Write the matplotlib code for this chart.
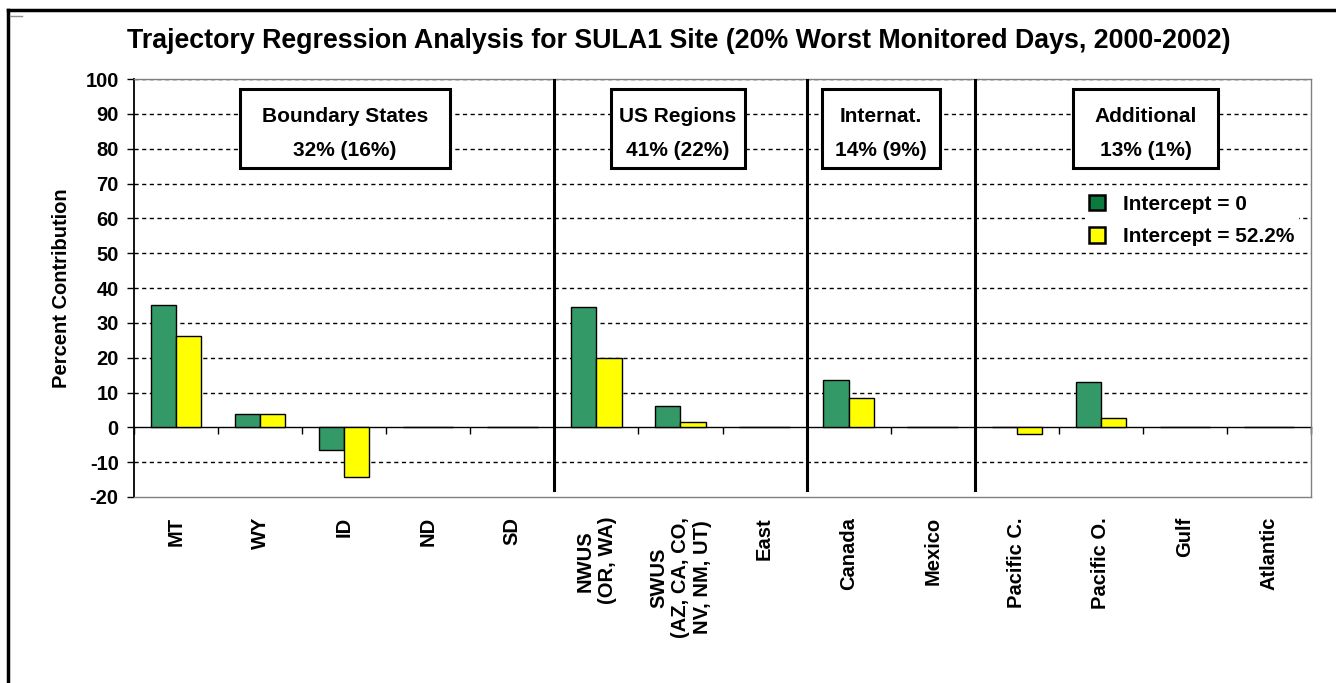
import numpy as np
import matplotlib.pyplot as plt
import matplotlib.transforms as mtransforms
from matplotlib.lines import Line2D
from matplotlib.patches import Patch, Rectangle

plt.rcParams['font.family'] = ['Liberation Sans', 'DejaVu Sans']
plt.rcParams['font.weight'] = 'bold'
plt.rcParams['axes.unicode_minus'] = False

# --- data ---
categories = ["MT", "WY", "ID", "ND", "SD",
              "NWUS\n(OR, WA)", "SWUS\n(AZ, CA, CO,\nNV, NM, UT)", "East",
              "Canada", "Mexico",
              "Pacific C.", "Pacific O.", "Gulf", "Atlantic"]
intercept_0 = [35.1, 3.7, -6.5, 0, 0, 34.6, 6.0, 0, 13.5, 0, 0, 13.1, 0, 0]
intercept_52 = [26.2, 3.7, -14.2, 0, 0, 19.9, 1.4, 0, 8.4, 0, -1.8, 2.8, 0, 0]
group_names = ["Boundary States\n32% (16%)", "US Regions\n41% (22%)",
               "Internat.\n14% (9%)", "Additional\n13% (1%)"]
group_breaks = [4.5, 7.5, 9.5]

# label box extents (pixel columns in the original layout)
box_px = [(240, 450), (611, 745), (822, 940), (1073, 1218)]

green = "#339966"
yellow = "#FFFF00"

fig = plt.figure(figsize=(13.36, 6.83), dpi=100)
ax = fig.add_axes([134 / 1336, 1 - 497 / 683, 1177 / 1336, 418 / 683])

x = np.arange(len(categories))
w = 0.3
ax.bar(x - w / 2, intercept_0, w, color=green, edgecolor="black", linewidth=1, zorder=3)
ax.bar(x + w / 2, intercept_52, w, color=yellow, edgecolor="black", linewidth=1, zorder=3)

ax.set_xlim(-0.5, len(categories) - 0.5)
ax.set_ylim(-20, 100)
ax.set_yticks(range(-20, 101, 10))
ax.tick_params(axis="y", labelsize=14.5, length=5, width=1, direction="out", pad=6)
ax.set_xticks([])
for t in ax.get_yticklabels():
    t.set_fontweight("bold")

# category labels (rotated, centred lines)
trans = mtransforms.blended_transform_factory(ax.transData, ax.transAxes)
for xi, lab in zip(x, categories):
    ax.text(xi, -20 / 418, lab, transform=trans, rotation=90, ha="center", va="top",
            multialignment="center", fontsize=14.5, fontweight="bold")

# grid
for yv in range(-10, 101, 10):
    if yv == 0:
        continue
    ax.axhline(yv, color="black", linestyle=(0, (3, 2.5)), linewidth=1, zorder=1)

# spines
ax.spines["left"].set_linewidth(1.3)
for s in ["top", "right", "bottom"]:
    ax.spines[s].set_color("#808080")
    ax.spines[s].set_linewidth(1)

# zero axis with ticks at category boundaries
sec = ax.secondary_xaxis(20 / 120)
sec.set_xticks(np.arange(-0.5, len(categories), 1))
sec.tick_params(length=5, width=1, direction="out", labelbottom=False, color="black")
sec.spines["bottom"].set_color("black")
sec.spines["bottom"].set_linewidth(1)

# group separators
for b in group_breaks:
    ax.plot([b, b], [-18, 100], color="black", linewidth=2.2, zorder=4)

# group boxes
box_top, box_bot = (497 - 89) / 418, (497 - 168) / 418
for (x0, x1), name in zip(box_px, group_names):
    fx0, fx1 = (x0 - 134) / 1177, (x1 - 134) / 1177
    ax.add_patch(Rectangle((fx0, box_bot), fx1 - fx0, box_top - box_bot, transform=ax.transAxes,
                           facecolor="white", edgecolor="black", linewidth=2.2, zorder=5))
    ax.text((fx0 + fx1) / 2, (box_top + box_bot) / 2 - 5 / 418, name, transform=ax.transAxes,
            ha="center", va="center", fontsize=15, fontweight="bold",
            linespacing=2.0, zorder=6)

ax.set_ylabel("Percent Contribution", fontsize=14.5, fontweight="bold", labelpad=10)

handles = [Patch(facecolor="#0b7a3e", edgecolor="black", linewidth=1.8),
           Patch(facecolor=yellow, edgecolor="black", linewidth=1.8)]
leg = ax.legend(handles, ["Intercept = 0", "Intercept = 52.2%"], loc="upper left",
                bbox_to_anchor=(0.8078, 0.7335), borderaxespad=0, borderpad=0.2,
                frameon=True, fancybox=False, facecolor="white", edgecolor="none", framealpha=1,
                handlelength=0.77, handleheight=0.77, handletextpad=0.87, labelspacing=0.66,
                prop={"weight": "bold", "size": 15})
leg.set_zorder(6)

fig.text(0.508, 1 - 41 / 683, "Trajectory Regression Analysis for SULA1 Site (20% Worst Monitored Days, 2000-2002)",
         ha="center", va="center", fontsize=19.3, fontweight="bold")

# outer frame
fig.add_artist(Line2D([8 / 1336, 1], [1 - 10 / 683, 1 - 10 / 683], color="black", linewidth=2.5))
fig.add_artist(Line2D([8 / 1336, 8 / 1336], [0, 1 - 10 / 683], color="black", linewidth=2.5))
fig.add_artist(Line2D([10 / 1336, 22 / 1336], [1 - 16 / 683, 1 - 16 / 683], color="#909090", linewidth=1))

fig.savefig("out.png", dpi=100)
